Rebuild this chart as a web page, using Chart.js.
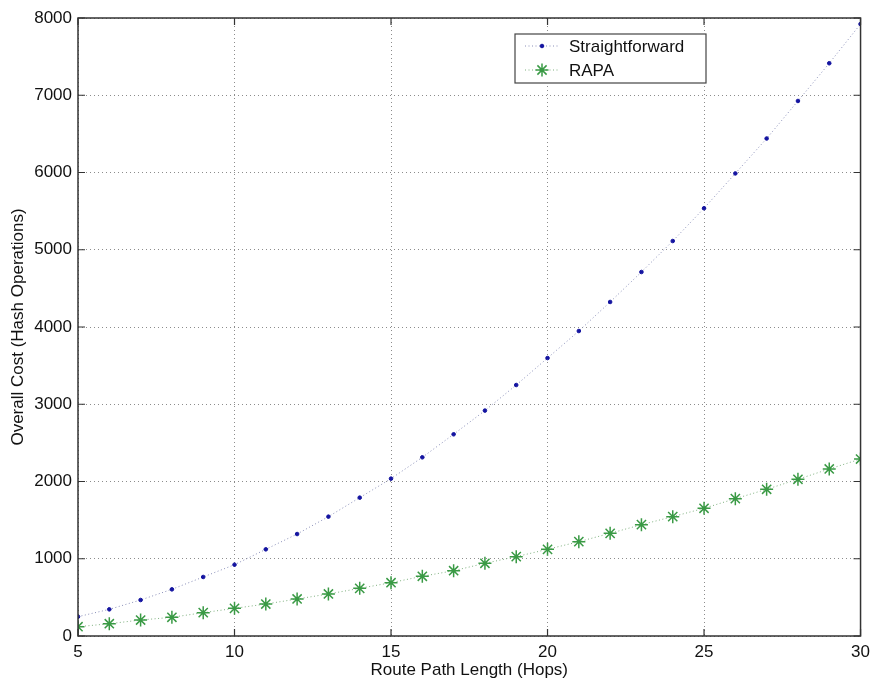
<!DOCTYPE html>
<html>
<head>
<meta charset="utf-8">
<script src="https://cdn.jsdelivr.net/npm/chart.js@4/dist/chart.umd.min.js"></script>
<style>
  html, body { margin: 0; padding: 0; background: #fff; }
  #wrap { width: 876px; height: 688px; }
</style>
</head>
<body>
<div id="wrap"><canvas id="chart" width="876" height="688"></canvas></div>
<script>
// route path length (hops)
const hops = [5, 6, 7, 8, 9, 10, 11, 12, 13, 14, 15, 16, 17, 18, 19, 20, 21, 22, 23, 24, 25, 26, 27, 28, 29, 30];
// overall cost
const straightforward = [250, 345, 466, 604, 764, 923, 1122, 1320, 1545, 1791, 2037, 2313, 2611, 2918, 3249, 3598, 3948, 4324, 4712, 5113, 5537, 5988, 6440, 6926, 7414, 7922];
const rapa = [120, 159, 207, 242, 302, 358, 414, 479, 544, 617, 690, 773, 845, 941, 1027, 1122, 1221, 1329, 1441, 1545, 1653, 1778, 1899, 2029, 2162, 2291];
const xTicks = [5, 10, 15, 20, 25, 30];
const yTicks = [0, 1000, 2000, 3000, 4000, 5000, 6000, 7000, 8000];
const seriesNames = ["Straightforward", "RAPA"];

const FONT = "'Liberation Sans', Arial, sans-serif";

const toPoints = (ys) => hops.map((h, i) => ({ x: h, y: ys[i] }));

// matlab style box with inward ticks on all four sides
const framePlugin = {
  id: "frame",
  afterDraw(chart) {
    const { ctx, chartArea: a, scales } = chart;
    ctx.save();
    ctx.strokeStyle = "#333";
    ctx.lineWidth = 1.5;
    ctx.strokeRect(a.left, a.top, a.right - a.left, a.bottom - a.top);
    ctx.lineWidth = 1.2;
    ctx.beginPath();
    xTicks.forEach(v => {
      const px = scales.x.getPixelForValue(v);
      ctx.moveTo(px, a.bottom); ctx.lineTo(px, a.bottom - 7);
      ctx.moveTo(px, a.top); ctx.lineTo(px, a.top + 7);
    });
    yTicks.forEach(v => {
      const py = scales.y.getPixelForValue(v);
      ctx.moveTo(a.left, py); ctx.lineTo(a.left + 7, py);
      ctx.moveTo(a.right, py); ctx.lineTo(a.right - 7, py);
    });
    ctx.stroke();
    ctx.restore();
  }
};

// legend box inside the axes, like matlab
const legendPlugin = {
  id: "boxLegend",
  afterDraw(chart) {
    const ctx = chart.ctx;
    const x0 = 515, y0 = 34, w = 191, h = 49;
    ctx.save();
    ctx.fillStyle = "#fff";
    ctx.fillRect(x0, y0, w, h);
    ctx.strokeStyle = "#444";
    ctx.lineWidth = 1.2;
    ctx.strokeRect(x0, y0, w, h);
    chart.data.datasets.forEach((ds, i) => {
      const y = y0 + 12 + i * 24;
      ctx.strokeStyle = ds.borderColor;
      ctx.lineWidth = 1;
      ctx.setLineDash([1, 2.5]);
      ctx.beginPath();
      ctx.moveTo(x0 + 10, y); ctx.lineTo(x0 + 44, y);
      ctx.stroke();
      ctx.setLineDash([]);
      ctx.fillStyle = ds.pointBackgroundColor;
      ctx.strokeStyle = ds.pointBorderColor;
      ctx.lineWidth = ds.pointBorderWidth;
      Chart.helpers.drawPoint(ctx, {
        pointStyle: ds.pointStyle, radius: ds.pointRadius, borderWidth: ds.pointBorderWidth
      }, x0 + 27, y);
      ctx.fillStyle = "#111";
      ctx.font = "17px " + FONT;
      ctx.textBaseline = "middle";
      ctx.textAlign = "left";
      ctx.fillText(seriesNames[i], x0 + 54, y + 1);
    });
    ctx.restore();
  }
};

const datasets = [
  {
    label: seriesNames[0],
    data: toPoints(straightforward),
    borderColor: "#8a8fb8",
    borderWidth: 1,
    borderDash: [1, 2.5],
    pointStyle: "circle",
    pointRadius: 1.8,
    pointBorderWidth: 1,
    pointBackgroundColor: "#1414a0",
    pointBorderColor: "#1414a0",
    tension: 0
  },
  {
    label: seriesNames[1],
    data: toPoints(rapa),
    borderColor: "#7fb07f",
    borderWidth: 1,
    borderDash: [1, 2.5],
    pointStyle: "star",
    pointRadius: 6.5,
    pointBorderWidth: 1.5,
    pointBackgroundColor: "#3a9a45",
    pointBorderColor: "#3a9a45",
    tension: 0
  }
];

new Chart(document.getElementById("chart"), {
  type: "line",
  data: { datasets },
  options: {
    responsive: false,
    animation: false,
    layout: { padding: { left: 0, right: 13, top: 18, bottom: 0 } },
    plugins: {
      legend: { display: false },
      tooltip: { enabled: false }
    },
    scales: {
      x: {
        type: "linear",
        min: 5,
        max: 30,
        afterFit: (s) => { s.height = 52; },
        afterBuildTicks: (s) => { s.ticks = xTicks.map(v => ({ value: v })); },
        ticks: { color: "#111", padding: 6, font: { family: FONT, size: 17 }, callback: (v) => String(v) },
        grid: { color: "#8c8c8c", lineWidth: 1, drawTicks: false },
        border: { display: false, dash: [1, 3] },
        title: {
          display: true,
          text: "Route Path Length (Hops)",
          color: "#111",
          font: { family: FONT, size: 17 },
          padding: { top: 0, bottom: 7 }
        }
      },
      y: {
        min: 0,
        max: 8000,
        afterFit: (s) => { s.width = 78; },
        afterBuildTicks: (s) => { s.ticks = yTicks.map(v => ({ value: v })); },
        ticks: { color: "#111", padding: 6, font: { family: FONT, size: 17 }, callback: (v) => String(v) },
        grid: { color: "#8c8c8c", lineWidth: 1, drawTicks: false },
        border: { display: false, dash: [1, 3] },
        title: {
          display: true,
          text: "Overall Cost (Hash Operations)",
          color: "#111",
          font: { family: FONT, size: 17 },
          padding: { top: 8, bottom: 0 }
        }
      }
    }
  },
  plugins: [framePlugin, legendPlugin]
});
</script>
</body>
</html>
